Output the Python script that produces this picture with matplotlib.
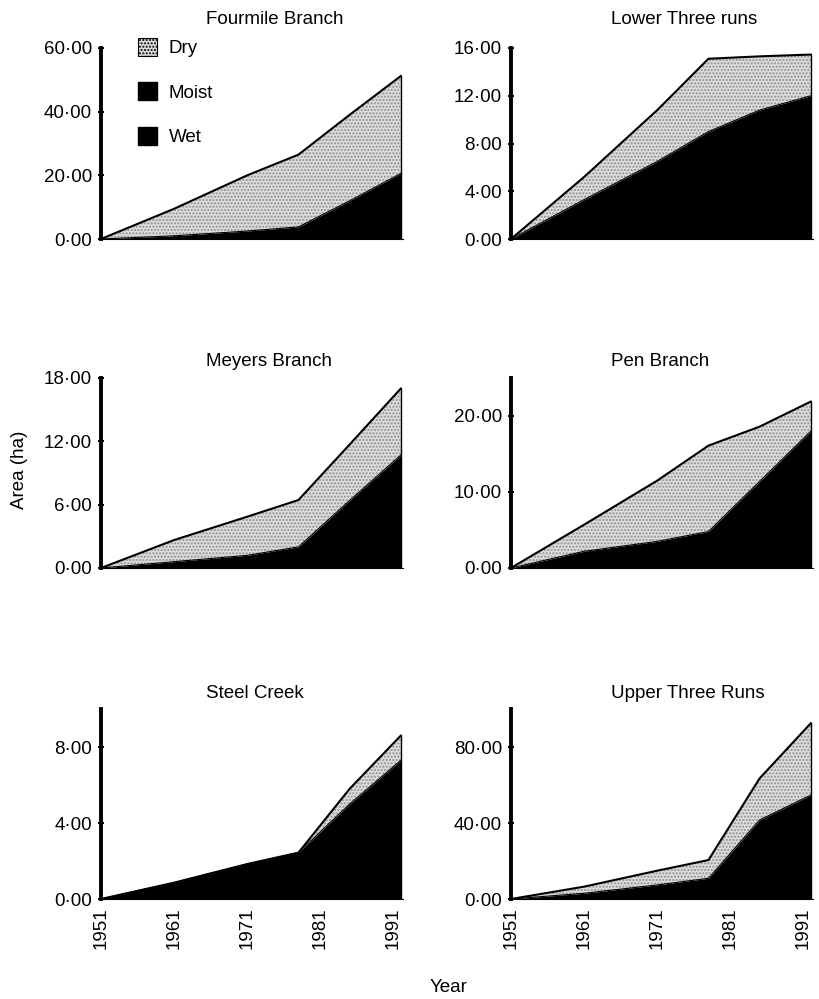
import matplotlib
matplotlib.use("Agg")
import matplotlib.pyplot as plt
from matplotlib.patches import Patch
from matplotlib.ticker import FuncFormatter

plt.rcParams['font.family'] = ['Liberation Sans', 'DejaVu Sans']

years = [1951, 1961, 1971, 1978, 1985, 1992]

titles = ["Fourmile Branch", "Lower Three runs", "Meyers Branch",
          "Pen Branch", "Steel Creek", "Upper Three Runs"]

# Wet area (ha)
wet_fourmile = [0, 1.0, 2.5, 3.8, 12.0, 20.6]
wet_lower = [0, 3.3, 6.5, 9.0, 10.8, 12.0]
wet_meyers = [0, 0.6, 1.2, 2.0, 6.4, 10.7]
wet_pen = [0, 2.2, 3.5, 4.8, 11.4, 18.0]
wet_steel = [0, 0.86, 1.84, 2.44, 5.0, 7.3]
wet_upper = [0, 3.0, 7.4, 10.9, 41.6, 54.7]

# Moist area (ha) - not distinguishable from Wet in the figure
moist_fourmile = [0, 0, 0, 0, 0, 0]
moist_lower = [0, 0, 0, 0, 0, 0]
moist_meyers = [0, 0, 0, 0, 0, 0]
moist_pen = [0, 0, 0, 0, 0, 0]
moist_steel = [0, 0, 0, 0, 0, 0]
moist_upper = [0, 0, 0, 0, 0, 0]

# Dry area (ha)
dry_fourmile = [0, 8.5, 17.5, 22.7, 27.0, 30.6]
dry_lower = [0, 1.9, 4.3, 6.1, 4.5, 3.45]
dry_meyers = [0, 2.05, 3.66, 4.44, 5.3, 6.3]
dry_pen = [0, 3.5, 8.0, 11.3, 7.2, 3.9]
dry_steel = [0, 0, 0, 0, 0.8, 1.3]
dry_upper = [0, 3.5, 7.5, 9.6, 21.9, 37.8]

wet_all = [wet_fourmile, wet_lower, wet_meyers, wet_pen, wet_steel, wet_upper]
moist_all = [moist_fourmile, moist_lower, moist_meyers, moist_pen, moist_steel, moist_upper]
dry_all = [dry_fourmile, dry_lower, dry_meyers, dry_pen, dry_steel, dry_upper]

ylims = [60, 16, 18, 25, 10, 100]
yticks_all = [[0, 20, 40, 60], [0, 4, 8, 12, 16], [0, 6, 12, 18],
              [0, 10, 20], [0, 4, 8], [0, 40, 80]]
xticks = [1951, 1961, 1971, 1981, 1991]

W, H = 820, 999
fig = plt.figure(figsize=(W / 100, H / 100), dpi=100)

lefts = [101, 511]
rows = [(48, 239), (378, 568), (709, 899)]
title_x = [206, 611]
title_y = [19, 362, 694]

fmt = FuncFormatter(lambda v, p: f"{v:.2f}".replace('.', '\u00b7'))

dry_face = '#dcdcdc'
FS = 13.5

for i in range(6):
    r, c = divmod(i, 2)
    top, bot = rows[r]
    x0 = lefts[c]
    ax = fig.add_axes([x0 / W, 1 - bot / H, 302 / W, (bot - top) / H])
    wet = wet_all[i]
    moist = moist_all[i]
    dry = dry_all[i]
    s1 = wet
    s2 = [a + b for a, b in zip(wet, moist)]
    s3 = [a + b for a, b in zip(s2, dry)]
    ax.fill_between(years, 0, s1, color='black', lw=0)
    ax.fill_between(years, s1, s2, color='black', lw=0)
    ax.fill_between(years, s2, s3, facecolor=dry_face, edgecolor='#8f8f8f',
                    hatch='.....', lw=0)
    ax.plot(years, s3, color='black', lw=1.5)
    ax.plot(years, s2, color='black', lw=0.8)
    ax.plot([years[-1], years[-1]], [0, s3[-1]], color='black', lw=1.0)
    ax.set_xlim(1951, 1992.3)
    ax.set_ylim(0, ylims[i])
    ax.set_yticks(yticks_all[i])
    ax.yaxis.set_major_formatter(fmt)
    ax.set_xticks(xticks)
    for sp in ['top', 'right']:
        ax.spines[sp].set_visible(False)
    ax.spines['left'].set_linewidth(2.8)
    ax.spines['bottom'].set_linewidth(0.8)
    ax.tick_params(axis='y', direction='inout', length=5, width=1.5, labelsize=FS, pad=4)
    ax.tick_params(axis='x', direction='in', length=3, width=1.0, labelsize=FS, pad=6)
    if r == 2:
        ax.set_xticklabels([str(x) for x in xticks], rotation=90)
    else:
        ax.set_xticklabels([])
    fig.text(title_x[c] / W, 1 - title_y[r] / H, titles[i], fontsize=FS,
             ha='left', va='center')
    if i == 0:
        handles = [Patch(facecolor=dry_face, edgecolor='black', hatch='.....', lw=0.8),
                   Patch(facecolor='black', edgecolor='black'),
                   Patch(facecolor='black', edgecolor='black')]
        ax.legend(handles, ['Dry', 'Moist', 'Wet'], loc='upper left',
                  bbox_to_anchor=(0.097, 1.093), frameon=False, fontsize=FS,
                  handlelength=1.0, handleheight=1.1, labelspacing=1.35,
                  handletextpad=0.65, borderaxespad=0)

fig.text(20 / W, 1 - 470 / H, 'Area (ha)', rotation=90, ha='center', va='center', fontsize=FS)
fig.text(449 / W, 1 - 988 / H, 'Year', ha='center', va='center', fontsize=FS)

fig.savefig('out.png', dpi=100)
